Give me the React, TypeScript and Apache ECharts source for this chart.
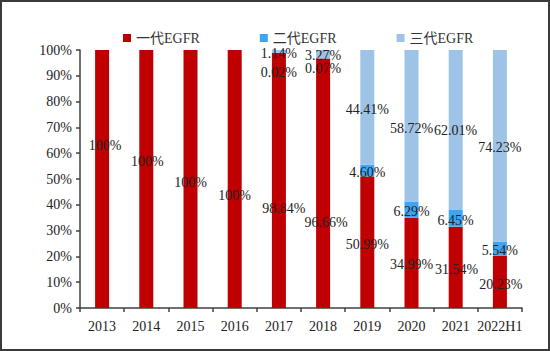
import React, { useEffect, useRef } from "react";
import * as echarts from "echarts";

const categories = ["2013", "2014", "2015", "2016", "2017", "2018", "2019", "2020", "2021", "2022H1"];
const seriesNames = ["一代EGFR", "二代EGFR", "三代EGFR"];
const gen1 = [100, 100, 100, 100, 98.84, 96.66, 50.99, 34.99, 31.54, 20.23];
const gen2 = [0, 0, 0, 0, 0.02, 0.07, 4.6, 6.29, 6.45, 5.54];
const gen3 = [0, 0, 0, 0, 1.14, 3.27, 44.41, 58.72, 62.01, 74.23];
const yTicks = { min: 0, max: 100, interval: 10 };

// label nudges (vertical, px) matching the reference's hand-placed labels
const nudge1 = [-34, -18, 3, 16, 28, 39, 2, 2, 2, 3];
const nudge2 = [0, 0, 0, 0, 20, 10, 2, 2, 2, 2];
const nudge3 = [0, 0, 0, 0, 2, 1, 2, 3, 1, 2];
const nudgeX1 = [3, 1, 0, 0, 5, 3, 0, 0, 1, 1];

const colors = ["#C00000", "#3DA5F5", "#9DC3E6"];
const FONT = "'Liberation Serif', 'Times New Roman', 'Noto Sans CJK SC', serif";

function fmt(v: number) {
  return Number.isInteger(v) ? `${v}%` : `${v.toFixed(2)}%`;
}

function build(values: number[], dy: number[], dx?: number[]) {
  return values.map((v, i) => ({
    value: v,
    label: {
      show: v > 0,
      offset: [dx ? dx[i] : 0, dy[i]],
    },
  }));
}

export default function App() {
  const ref = useRef<HTMLDivElement>(null);
  useEffect(() => {
    if (!ref.current) return;
    const chart = echarts.init(ref.current, null, { renderer: "svg" });
    const labelCommon = {
      position: "inside" as const,
      color: "#222",
      fontSize: 14,
      fontFamily: FONT,
      formatter: (p: any) => fmt(p.value),
    };
    const mk = (i: number, data: any[]) => ({
      name: seriesNames[i],
      type: "bar",
      stack: "total",
      barWidth: 14,
      itemStyle: { color: colors[i] },
      label: labelCommon,
      data,
    });
    chart.setOption({
      animation: false,
      textStyle: { fontFamily: FONT },
      legend: {
        data: seriesNames,
        left: 118,
        top: 26,
        icon: "rect",
        itemWidth: 8,
        itemHeight: 8,
        itemGap: 60,
        textStyle: { fontSize: 14, color: "#333", fontFamily: FONT },
      },
      grid: { left: 80, right: 28, top: 50, bottom: 43 },
      xAxis: {
        type: "category",
        data: categories,
        axisLine: { lineStyle: { color: "#404040", width: 1.5 } },
        axisTick: { show: true, length: 4, lineStyle: { color: "#404040", width: 1.5 } },
        axisLabel: { color: "#222", fontSize: 14, fontFamily: FONT, margin: 11, interval: 0 },
      },
      yAxis: {
        type: "value",
        min: yTicks.min,
        max: yTicks.max,
        interval: yTicks.interval,
        axisLine: { show: true, lineStyle: { color: "#404040", width: 1.5 } },
        axisTick: { show: true, length: 4, lineStyle: { color: "#404040", width: 1.5 } },
        axisLabel: { color: "#222", fontSize: 14, fontFamily: FONT, margin: 8, formatter: "{value}%" },
        splitLine: { show: false },
      },
      series: [
        mk(0, build(gen1, nudge1, nudgeX1)),
        mk(1, build(gen2, nudge2)),
        mk(2, build(gen3, nudge3)),
      ],
    });
    return () => chart.dispose();
  }, []);
  return (
    <div
      style={{
        position: "absolute",
        left: 0,
        top: 0,
        width: 550,
        height: 351,
        boxSizing: "border-box",
        border: "2px solid #3a3a3a",
        background: "#fff",
      }}
    >
      <div ref={ref} style={{ position: "absolute", left: -2, top: -2, width: 550, height: 351 }} />
    </div>
  );
}
